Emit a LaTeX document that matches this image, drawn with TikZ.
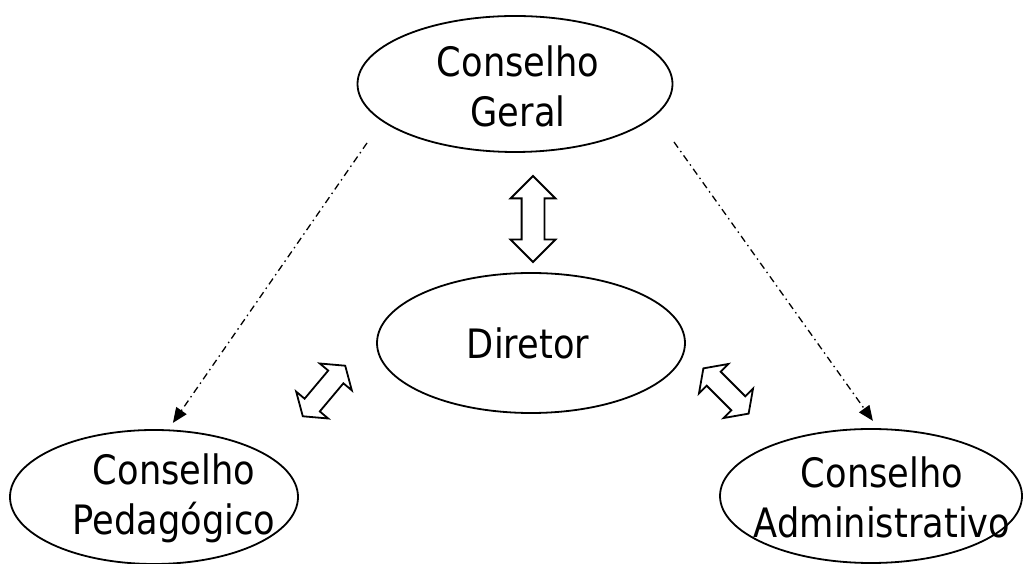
\documentclass[tikz,border=0pt]{standalone}
\usepackage{fontspec}
\setmainfont{DejaVu Sans}[FakeStretch=0.87]
\usepackage{tikz}
\usetikzlibrary{shapes,arrows.meta,positioning,calc}

\tikzset{
    council/.style={ellipse, draw, line width=1.8pt, inner sep=0pt},
    caption/.style={align=center, inner sep=0pt, font=\fontsize{40.5}{50}\selectfont},
    link/.style={line width=1.3pt, dash pattern=on 7pt off 4pt on 1.5pt off 4pt,
        -{Triangle[length=15pt,width=12.5pt]}},
    twoway/.style={double arrow, draw, fill=white, line width=1.8pt,
        inner xsep=0pt, inner ysep=10.5pt, double arrow head extend=11pt},
}

\begin{document}
\begin{tikzpicture}[x=1pt,y=1pt]
    \useasboundingbox (0,0) rectangle (1025,564);

    % Councils and director
    \node [council, minimum width=315, minimum height=136] (geral) at (515,480) {};
    \node [council, minimum width=308, minimum height=140] (diretor) at (531,221) {};
    \node [council, minimum width=288, minimum height=134] (ped) at (154,67) {};
    \node [council, minimum width=302, minimum height=134] (adm) at (871,68) {};

    % Labels
    \node [caption] (geral-txt) at (518,478) {Conselho\\Geral};
    \node [caption] (diretor-txt) at (528,221) {Diretor};
    \node [caption] (ped-txt) at (174,66) {Conselho\\Pedagógico};
    \node [caption] (adm-txt) at (882,67) {Conselho\\Administrativo};

    % Dash-dot links from the general council
    \coordinate (geral-l) at (367,421);
    \coordinate (geral-r) at (674,422);
    \draw [link, shorten >=8pt] (geral-l) -- (ped.78);
    \draw [link, shorten >=9pt] (geral-r) -- (adm.84);

    % Two-way arrows around the director
    \node [twoway, minimum height=86, rotate=90] (up) at (533,345) {};
    \node [twoway, minimum height=66, inner ysep=9pt, double arrow tip angle=110, rotate=50] (left) at (324,173) {};
    \node [twoway, minimum height=64, inner ysep=9pt, double arrow tip angle=110, rotate=-45] (right) at (726,173) {};
\end{tikzpicture}
\end{document}
